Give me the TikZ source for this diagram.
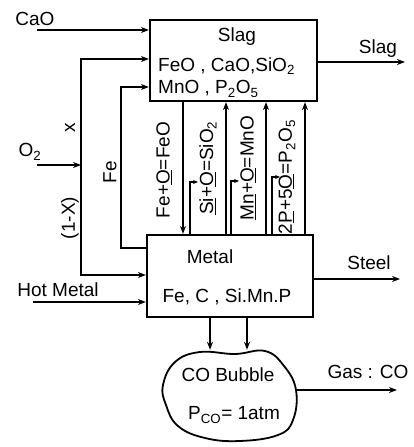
\documentclass[tikz,border=0pt]{standalone}
\usepackage{fontspec}
\setmainfont{Liberation Sans}
\usetikzlibrary{arrows.meta}

\tikzset{
  box/.style={draw, line width=2.2pt, inner sep=0pt},
  flow/.style={line width=1.7pt, -{Stealth[length=8pt,width=6pt]}},
  oxline/.style={line width=1.1pt, -{Stealth[length=5pt,width=4pt]}},
  lbl/.style={font=\fontsize{19}{22}\selectfont, inner sep=1pt},
}

\begin{document}
\begin{tikzpicture}[x=1pt, y=-1pt, >=Stealth]
  \useasboundingbox (0,0) rectangle (413,447);

  % the two vessels and the bubble
  \node[box, minimum width=167pt, minimum height=81pt] (slag) at (233.5,60.5) {};
  \node[box, minimum width=166pt, minimum height=82pt] (metal) at (230,276) {};
  \node[minimum width=134pt, minimum height=90pt, inner sep=0pt] (bubble) at (229,395) {};
  \draw[line width=1.8pt] plot[smooth cycle, tension=0.7] coordinates
    {(175,362) (200,352) (235,354) (265,351) (284,366) (296,390) (293,420)
     (278,435) (240,441) (205,438) (178,426) (166,405) (163,385)};

  \node[lbl] (slagname) at (237,37) {Slag};
  \node[lbl, anchor=west] (slagox1) at (157,66) {FeO , CaO,SiO\textsubscript{2}};
  \node[lbl, anchor=west] (slagox2) at (157,89) {MnO , P\textsubscript{2}O\textsubscript{5}};
  \node[lbl] (metalname) at (210,257) {Metal};
  \node[lbl] (metalcomp) at (227,297) {Fe, C , Si.Mn.P};
  \node[lbl] (bubname) at (228,375) {CO Bubble};
  \node[lbl] (bubp) at (234,415) {P\textsubscript{CO}= 1atm};

  % inputs
  \coordinate (cao) at (37,30);
  \node[lbl] (caolbl) at (35,19) {CaO};
  \draw[flow] (cao) -- (cao -| slag.west);

  \coordinate (o2) at (37,165);
  \coordinate (split) at (81,165);
  \coordinate (xtop) at (81,59);
  \coordinate (xbot) at (81,275);
  \node[lbl] (o2lbl) at (30,152) {O\textsubscript{2}};
  \draw[flow] (o2) -- (split);
  \draw[flow] (split) -- (xtop) -- (xtop -| slag.west);
  \draw[flow] (split) -- (xbot) -- (xbot -| metal.west);
  \node[lbl, rotate=90] (xlbl) at (70,128) {x};
  \node[lbl, rotate=90] (onexlbl) at (70,218) {(1-X)};

  \coordinate (fetop) at (121,87);
  \coordinate (febot) at (121,248);
  \draw[flow] (febot -| metal.west) -- (febot) -- (fetop) -- (fetop -| slag.west);
  \node[lbl, rotate=90] (felbl) at (110,172) {Fe};

  \coordinate (hm) at (33,302);
  \node[lbl] (hmlbl) at (58,290) {Hot Metal};
  \draw[flow] (hm) -- (hm -| metal.west);

  % outputs
  \coordinate (slagout) at (405,62);
  \node[lbl] (slaglbl) at (378,49) {Slag};
  \draw[flow] (slagout -| slag.east) -- (slagout);

  \coordinate (steel) at (400,279);
  \node[lbl] (steellbl) at (369,263) {Steel};
  \draw[flow] (steel -| metal.east) -- (steel);

  \coordinate (gas) at (397,390);
  \node[lbl] (gaslbl) at (368,372) {Gas : CO};
  \draw[flow] (gas -| bubble.east) -- (gas);

  \coordinate (b1) at (210,335);
  \coordinate (b2) at (247,335);
  \draw[flow] (b1 |- metal.south) -- (b1 |- bubble.north);
  \draw[flow] (b2 |- metal.south) -- (b2 |- bubble.north);

  % slag/metal reactions
  \foreach \x/\n in {183/1, 226/2, 266/3, 305/4}
    \coordinate (r\n) at (\x,168);
  \draw[flow] (r1 |- slag.south) -- (r1 |- metal.north);
  \foreach \n in {2,3,4}
    \draw[flow] (r\n |- metal.north) -- (r\n |- slag.south);

  \foreach \x/\y/\n in {190/182/2, 231/181/3, 272/177/4} {
    \coordinate (o\n) at (\x,\y);
    \draw[oxline] (o\n |- metal.north) -- (o\n) -- ++(8,0);
  }

  \node[lbl, rotate=90] (rlbl1) at (164,170) {Fe+\underline{O}=FeO};
  \node[lbl, rotate=90] (rlbl2) at (208,168) {\underline{Si}+\underline{O}=SiO\textsubscript{2}};
  \node[lbl, rotate=90] (rlbl3) at (248,168) {\underline{Mn}+\underline{O}=MnO};
  \node[lbl, rotate=90] (rlbl4) at (287,177) {2\underline{P}+5\underline{O}=P\textsubscript{2}O\textsubscript{5}};
\end{tikzpicture}
\end{document}
